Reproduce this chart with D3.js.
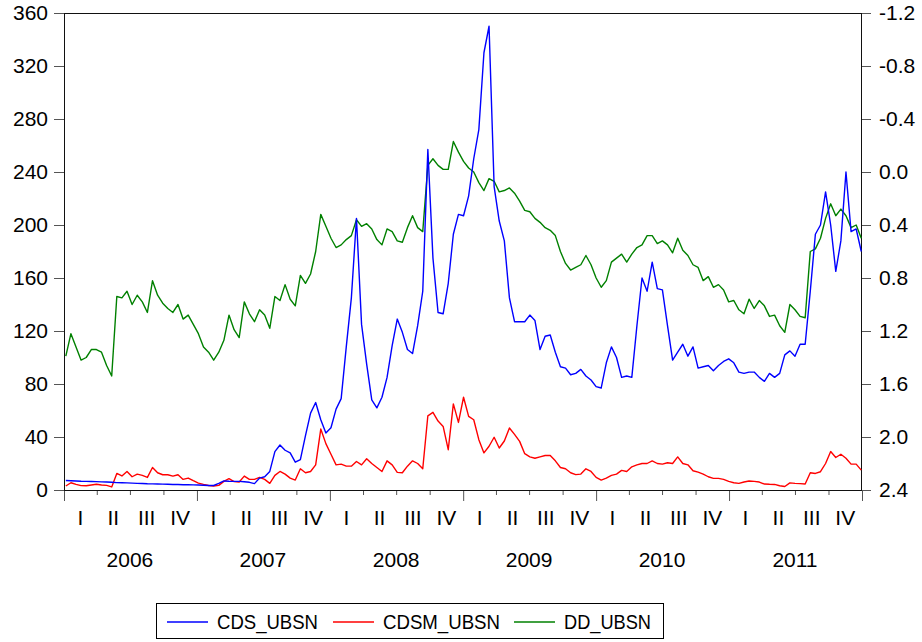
<!DOCTYPE html>
<html>
<head>
<meta charset="utf-8">
<script src="https://cdnjs.cloudflare.com/ajax/libs/d3/7.8.5/d3.min.js"></script>
<style>
  body { margin: 0; background: #fff; }
  svg { display: block; font-family: "Liberation Sans", Arial, sans-serif; }
  .line { fill: none; stroke-width: 1.4; stroke-linejoin: round; }
  .tick line { stroke: #555; }
</style>
</head>
<body>
<svg></svg>
<script>
// series names / colours
var names = ["CDS_UBSN", "CDSM_UBSN", "DD_UBSN"];
var colors = ["#0000ff", "#ff0000", "#008000"];

// tick labels
var leftTicks = [0, 40, 80, 120, 160, 200, 240, 280, 320, 360];
var rightTicks = [-1.2, -0.8, -0.4, 0.0, 0.4, 0.8, 1.2, 1.6, 2.0, 2.4];
var quarterLabels = ["I", "II", "III", "IV"];
var years = [2006, 2007, 2008, 2009, 2010, 2011];

// fortnightly observation dates, Jan 2006 - Dec 2011
var dates = d3.range(157).map(function(i) {
  return d3.timeDay.offset(new Date(2006, 0, 6), 14 * i);
});

// CDS_UBSN (left axis)
var cds = [
  7.2, 7.0, 6.8, 6.6, 6.5, 6.4, 6.3, 6.1, 6.0, 5.8,
  5.6, 5.5, 5.4, 5.2, 5.0, 4.9, 4.7, 4.6, 4.5, 4.4,
  4.3, 4.2, 4.1, 4.0, 4.0, 3.9, 3.8, 3.6, 3.4, 3.4,
  5.0, 6.8, 6.6, 6.5, 6.5, 6.2, 5.8, 4.8, 9.0, 10.0,
  14, 29, 34, 30, 28, 21, 23, 41, 58, 66,
  53, 43, 47, 61, 69, 108, 145, 205, 125, 95,
  68, 62, 70, 85, 109, 129, 119, 106, 103, 124,
  150, 257, 175, 134, 133, 156, 193, 208, 207, 222,
  250, 272, 330, 350, 229, 203, 188, 145, 127, 127,
  127, 132, 128, 106, 116, 117, 104, 93, 92, 87,
  88, 91, 86, 83, 78, 77, 96, 108, 100, 85,
  86, 85, 124, 160, 150, 172, 152, 151, 124, 98,
  104, 110, 101, 108, 92, 93, 94, 90, 94, 97,
  99, 96, 89, 88, 89, 89, 85, 82, 88, 85,
  88, 102, 105, 101, 110, 110, 150, 193, 200, 225,
  200, 165, 188, 240, 195, 197, 180
];

// CDSM_UBSN (left axis)
var cdsm = [
  3, 5.5, 4.2, 3.3, 3.2, 3.8, 4.3, 3.8, 3.5, 2.3,
  12.5, 10.6, 14, 10, 12, 11, 9.5, 17, 13, 11.5,
  11.5, 10.5, 11.5, 8, 9, 7, 5.2, 4.2, 3.4, 3,
  3.5, 6.5, 8.6, 6.3, 6, 10.5, 8, 8, 9.5, 8,
  5, 11, 14, 12, 9, 7.5, 16, 13, 14, 19,
  46, 35, 27, 19, 19.5, 18, 18, 21.5, 19, 23.6,
  20, 17, 14, 22, 19, 13.3, 13, 18, 22, 20,
  16, 56, 58.6, 52, 48, 30.4, 65, 51, 70, 55.6,
  53, 38, 28, 33, 39.8, 31.7, 37, 46.8, 42, 36.7,
  27.4, 25, 24, 25, 26, 26, 22, 17, 16, 13,
  11.6, 12, 16, 14, 9.5, 7.5, 9, 11, 12, 14.8,
  14, 17.5, 19, 20, 20, 22, 20, 19.5, 20.6, 20,
  25, 20, 19, 14.5, 13.5, 12, 10, 8.8, 8.8, 8,
  6.5, 5.5, 5, 6, 6.8, 6.5, 6, 4.5, 4.3, 4.2,
  3.2, 2.6, 5.4, 5, 4.8, 4.5, 13, 12.5, 13.8, 20,
  29, 24.5, 27, 24, 19.5, 19.5, 15
];

// DD_UBSN (right axis, inverted)
var dd = [
  1.39, 1.22, 1.32, 1.42, 1.40, 1.34, 1.34, 1.36, 1.46, 1.54,
  0.94, 0.95, 0.90, 1.00, 0.93, 0.98, 1.06, 0.82, 0.93, 0.99,
  1.03, 1.06, 1.00, 1.11, 1.08, 1.15, 1.22, 1.32, 1.36, 1.42,
  1.36, 1.27, 1.08, 1.19, 1.25, 0.98, 1.07, 1.13, 1.04, 1.08,
  1.18, 0.94, 0.97, 0.85, 0.96, 1.01, 0.78, 0.84, 0.77, 0.60,
  0.32, 0.41, 0.50, 0.57, 0.55, 0.51, 0.48, 0.36, 0.41, 0.39,
  0.43, 0.51, 0.55, 0.43, 0.45, 0.52, 0.53, 0.42, 0.33, 0.42,
  0.45, -0.05, -0.10, -0.05, -0.02, -0.02, -0.23, -0.15, -0.08, -0.03,
  0.00, 0.08, 0.14, 0.05, 0.07, 0.15, 0.14, 0.12, 0.16, 0.22,
  0.29, 0.30, 0.35, 0.38, 0.42, 0.44, 0.48, 0.60, 0.69, 0.74,
  0.72, 0.70, 0.63, 0.70, 0.80, 0.87, 0.82, 0.68, 0.65, 0.62,
  0.68, 0.62, 0.57, 0.55, 0.48, 0.48, 0.54, 0.52, 0.55, 0.61,
  0.50, 0.59, 0.63, 0.70, 0.72, 0.82, 0.79, 0.87, 0.85, 0.89,
  0.98, 0.97, 1.04, 1.07, 0.96, 1.03, 0.97, 1.01, 1.09, 1.08,
  1.16, 1.21, 1.00, 1.04, 1.09, 1.10, 0.60, 0.58, 0.50, 0.35,
  0.24, 0.33, 0.28, 0.33, 0.42, 0.40, 0.50
];

// configure size and plot box
var config = {
  w: 922,
  h: 642,
  left: 64,
  right: 862,
  top: 13,
  bottom: 490
};

// setup scales
var x = d3.scaleTime()
  .domain([new Date(2006, 0, 1), new Date(2012, 0, 1)])
  .range([config.left, config.right]);
var yL = d3.scaleLinear().domain([0, 360]).range([config.bottom, config.top]);
var yR = d3.scaleLinear().domain([2.4, -1.2]).range([config.bottom, config.top]);

var svg = d3.select("svg")
  .attr("width", config.w)
  .attr("height", config.h);

// left axis
var gl = svg.append("g")
  .attr("transform", "translate(" + config.left + ",0)")
  .call(d3.axisLeft(yL).tickValues(leftTicks).tickSize(10).tickPadding(6));

// right axis
var gr = svg.append("g")
  .attr("transform", "translate(" + config.right + ",0)")
  .call(d3.axisRight(yR).tickValues(rightTicks).tickSize(9).tickPadding(8)
    .tickFormat(function(d) { return d.toFixed(1); }));

// bottom axis: quarter ticks, longer at year start
var quarters = d3.timeMonth.every(3).range(new Date(2006, 0, 1), new Date(2012, 0, 2));
var gb = svg.append("g")
  .attr("transform", "translate(0," + config.bottom + ")")
  .call(d3.axisBottom(x).tickValues(quarters).tickSize(6).tickFormat(""));
gb.selectAll(".tick line")
  .attr("y2", function(d) { return d.getMonth() == 0 ? 11 : 5; });

[gl, gr, gb].forEach(function(g) {
  g.select(".domain").remove();
  g.selectAll("text")
    .attr("font-size", 21)
    .attr("font-family", "'Liberation Sans', Arial, sans-serif")
    .attr("fill", "#000");
});

// quarter labels
var qmid = quarters.slice(0, -1).map(function(d, i) {
  return { x: x(new Date((+d + +quarters[i + 1]) / 2)), label: quarterLabels[d.getMonth() / 3] };
});
svg.append("g").selectAll("text")
  .data(qmid)
  .enter().append("text")
    .attr("x", function(d) { return d.x; })
    .attr("y", 525)
    .attr("text-anchor", "middle")
    .attr("font-size", 21)
    .text(function(d) { return d.label; });

// year labels
svg.append("g").selectAll("text")
  .data(years)
  .enter().append("text")
    .attr("x", function(d) { return x(new Date(d, 6, 1)); })
    .attr("y", 567)
    .attr("text-anchor", "middle")
    .attr("font-size", 21)
    .text(function(d) { return d; });

// plot frame
svg.append("rect")
  .attr("x", config.left + 0.5)
  .attr("y", config.top + 0.5)
  .attr("width", config.right - config.left - 1)
  .attr("height", config.bottom - config.top)
  .attr("fill", "none")
  .attr("stroke", "#111");

// lines
var lineL = d3.line()
  .x(function(d, i) { return x(dates[i]); })
  .y(function(d) { return yL(d); });
var lineR = d3.line()
  .x(function(d, i) { return x(dates[i]); })
  .y(function(d) { return yR(d); });

var plot = svg.append("g");
plot.append("path").attr("class", "line").attr("stroke", colors[2]).attr("d", lineR(dd));
plot.append("path").attr("class", "line").attr("stroke", colors[1]).attr("d", lineL(cdsm));
plot.append("path").attr("class", "line").attr("stroke", colors[0]).attr("d", lineL(cds));

// legend
var leg = svg.append("g").attr("transform", "translate(156,603)");
leg.append("rect")
  .attr("x", 0.5).attr("y", 0.5)
  .attr("width", 507).attr("height", 35)
  .attr("fill", "none").attr("stroke", "#000");

var legItems = [
  { x: 11, w: 101 },
  { x: 177, w: 117 },
  { x: 358, w: 87 }
];
var li = leg.selectAll("g.item")
  .data(names)
  .enter().append("g")
    .attr("class", "item")
    .attr("transform", function(d, i) { return "translate(" + legItems[i].x + ",0)"; });
li.append("line")
  .attr("x1", 0).attr("x2", 41)
  .attr("y1", 19).attr("y2", 19)
  .attr("stroke", function(d, i) { return colors[i]; })
  .attr("stroke-width", 1.3);
li.append("text")
  .attr("x", 50)
  .attr("y", 26)
  .attr("font-size", 21)
  .attr("textLength", function(d, i) { return legItems[i].w; })
  .attr("lengthAdjust", "spacingAndGlyphs")
  .text(function(d) { return d; });
</script>
</body>
</html>
